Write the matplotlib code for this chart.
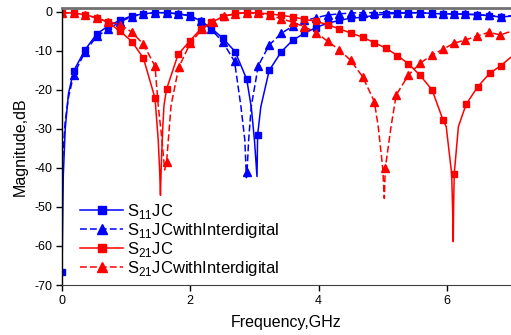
import matplotlib
matplotlib.use('Agg')
import matplotlib.pyplot as plt

plt.rcParams['font.family'] = ['Liberation Sans', 'DejaVu Sans']
plt.rcParams['mathtext.fontset'] = 'custom'
plt.rcParams['mathtext.rm'] = 'Liberation Sans'
plt.rcParams['axes.unicode_minus'] = False

# S11 JC (marker points, GHz / dB)
s11_jc_f = [0.0, 0.18, 0.36, 0.54, 0.72, 0.91, 1.09, 1.27, 1.45, 1.63, 1.81, 1.99, 2.16, 2.33, 2.51, 2.70,
            2.88, 3.05, 3.23, 3.42, 3.60, 3.78, 3.96, 4.14, 4.32, 4.50, 4.68, 4.87, 5.05, 5.23, 5.40, 5.58,
            5.77, 5.94, 6.11, 6.29, 6.47, 6.66, 6.84]
s11_jc_db = [-66.7, -15.2, -9.7, -5.7, -3.6, -2.1, -1.0, -0.5, -0.2, -0.2, -0.5, -0.9, -2.3, -4.2, -6.8, -10.2,
             -17.3, -31.5, -15.0, -10.2, -7.2, -5.5, -4.0, -2.9, -2.2, -1.6, -1.4, -0.9, -0.5, -0.4, -0.2, -0.2,
             -0.4, -0.5, -0.5, -0.6, -0.7, -1.0, -1.3]
# extra line points (steep parts / notch bottom)
s11_jc_xf = [0.02, 0.05, 0.10, 2.95, 3.00, 3.04, 3.10, 7.0]
s11_jc_xdb = [-42.0, -30.0, -21.0, -24.3, -32.8, -42.2, -24.3, -1.1]

# S11 JC with interdigital
s11_id_f = [0.18, 0.36, 0.54, 0.72, 0.91, 1.09, 1.27, 1.45, 1.63, 1.81, 1.99, 2.16, 2.33, 2.51, 2.69, 2.885,
            3.06, 3.23, 3.42, 3.60, 3.78, 3.96, 4.14, 4.32, 4.50, 4.69, 4.87, 5.05, 5.23, 5.40, 5.58, 5.77,
            5.94, 6.11, 6.29, 6.47, 6.66, 6.84]
s11_id_db = [-16.2, -10.2, -6.3, -4.4, -2.5, -1.2, -0.5, -0.2, -0.2, -0.5, -1.0, -2.3, -4.5, -7.8, -12.7, -41.0,
             -13.8, -8.5, -5.5, -3.6, -2.2, -1.5, -0.8, -0.5, -0.3, -0.2, -0.2, -0.2, -0.2, -0.2, -0.3, -0.3,
             -0.5, -0.5, -0.6, -0.7, -0.9, -1.2]
s11_id_xf = [0.0, 0.05, 0.10, 2.79, 2.85, 2.875, 2.91, 2.95, 7.0]
s11_id_xdb = [-40.0, -28.0, -22.0, -24.3, -32.8, -42.5, -32.8, -24.3, -1.0]

# S21 JC
s21_jc_f = [0.0, 0.18, 0.36, 0.54, 0.72, 0.91, 1.09, 1.27, 1.45, 1.63, 1.81, 1.99, 2.16, 2.33, 2.51, 2.70,
            2.88, 3.06, 3.24, 3.42, 3.60, 3.78, 3.96, 4.14, 4.32, 4.50, 4.69, 4.87, 5.05, 5.23, 5.40, 5.58,
            5.77, 5.94, 6.115, 6.30, 6.48, 6.67, 6.84]
s21_jc_db = [-0.2, -0.3, -0.7, -1.5, -2.7, -5.0, -7.6, -11.9, -22.1, -19.8, -10.9, -7.5, -4.4, -2.7, -1.2, -0.4,
             -0.1, -0.3, -0.5, -0.9, -1.3, -1.9, -2.4, -3.3, -4.3, -5.4, -6.5, -7.9, -9.3, -11.2, -13.3, -16.2,
             -20.0, -27.7, -41.5, -23.7, -19.2, -15.7, -13.8]
s21_jc_xf = [1.50, 1.524, 1.535, 1.55, 1.57, 1.59, 5.99, 6.075, 6.09, 6.10, 6.105, 6.18, 7.0]
s21_jc_xdb = [-32.8, -41.4, -47.0, -38.0, -30.0, -24.0, -29.4, -41.5, -50.8, -58.9, -50.0, -29.4, -11.6]

# S21 JC with interdigital
s21_id_f = [0.0, 0.18, 0.36, 0.54, 0.72, 0.91, 1.09, 1.27, 1.45, 1.63, 1.82, 2.00, 2.18, 2.35, 2.53, 2.70,
            2.88, 3.06, 3.24, 3.42, 3.60, 3.78, 3.96, 4.14, 4.32, 4.50, 4.69, 4.87, 5.04, 5.21, 5.40, 5.58,
            5.77, 5.94, 6.11, 6.29, 6.47, 6.66, 6.83]
s21_id_db = [-0.2, -0.3, -0.8, -1.6, -2.5, -3.3, -5.2, -8.3, -13.9, -38.6, -14.2, -8.0, -4.5, -2.5, -1.1, -0.5,
             -0.2, -0.4, -0.9, -1.7, -2.7, -3.8, -5.3, -7.5, -9.7, -12.4, -16.7, -23.0, -40.1, -21.3, -16.2, -13.2,
             -11.0, -9.6, -8.0, -7.2, -6.2, -5.2, -5.9]
s21_id_xf = [1.50, 1.56, 1.60, 1.70, 4.93, 5.00, 5.025, 5.13, 7.0]
s21_id_xdb = [-24.0, -33.0, -40.5, -24.0, -29.4, -40.0, -47.8, -29.4, -5.0]

labels = ['S$_{11}$JC', 'S$_{11}$JCwithInterdigital', 'S$_{21}$JC', 'S$_{21}$JCwithInterdigital']

fig = plt.figure(figsize=(5.11, 3.35), dpi=100)
ax = fig.add_axes([62 / 511, 50 / 335, 449 / 511, 277 / 335])

dash = (0, (4.5, 2))


def draw(f, db, xf, xdb, color, ls, marker, ms, label):
    pts = sorted(list(zip(f, db)) + list(zip(xf, xdb)))
    ax.plot([p[0] for p in pts], [p[1] for p in pts], color=color, ls=ls, lw=1.1)
    ax.plot(f, db, color=color, ls='none', marker=marker, ms=ms)
    ax.plot([], [], color=color, ls=ls, lw=1.1, marker=marker, ms=ms + 1.5, label=label)


draw(s11_jc_f, s11_jc_db, s11_jc_xf, s11_jc_xdb, '#0000ff', '-', 's', 4.3, labels[0])
draw(s11_id_f, s11_id_db, s11_id_xf, s11_id_xdb, '#0000ff', dash, '^', 5.2, labels[1])
draw(s21_jc_f, s21_jc_db, s21_jc_xf, s21_jc_xdb, '#ff0000', '-', 's', 4.3, labels[2])
draw(s21_id_f, s21_id_db, s21_id_xf, s21_id_xdb, '#ff0000', dash, '^', 5.2, labels[3])

ax.set_xlim(0, 7)
ax.set_ylim(-70, 1)
ax.set_xticks([0, 2, 4, 6])
ax.set_yticks([0, -10, -20, -30, -40, -50, -60, -70])
ax.tick_params(direction='out', length=4, width=1, labelsize=9, pad=3)
ax.spines['top'].set_color('#707070')
ax.spines['top'].set_linewidth(2)
ax.spines['right'].set_visible(False)
ax.spines['left'].set_linewidth(1)
ax.spines['bottom'].set_color('#404040')
ax.set_xlabel('Frequency,GHz', fontsize=11.5, labelpad=6)
ax.set_ylabel('Magnitude,dB', fontsize=11.5, labelpad=5)

ax.legend(loc='lower left', bbox_to_anchor=(0.04, 0.025), frameon=False, fontsize=12,
          handlelength=2.6, handletextpad=0.2, labelspacing=0.0, borderaxespad=0, borderpad=0)

fig.savefig('out.png', dpi=100)
